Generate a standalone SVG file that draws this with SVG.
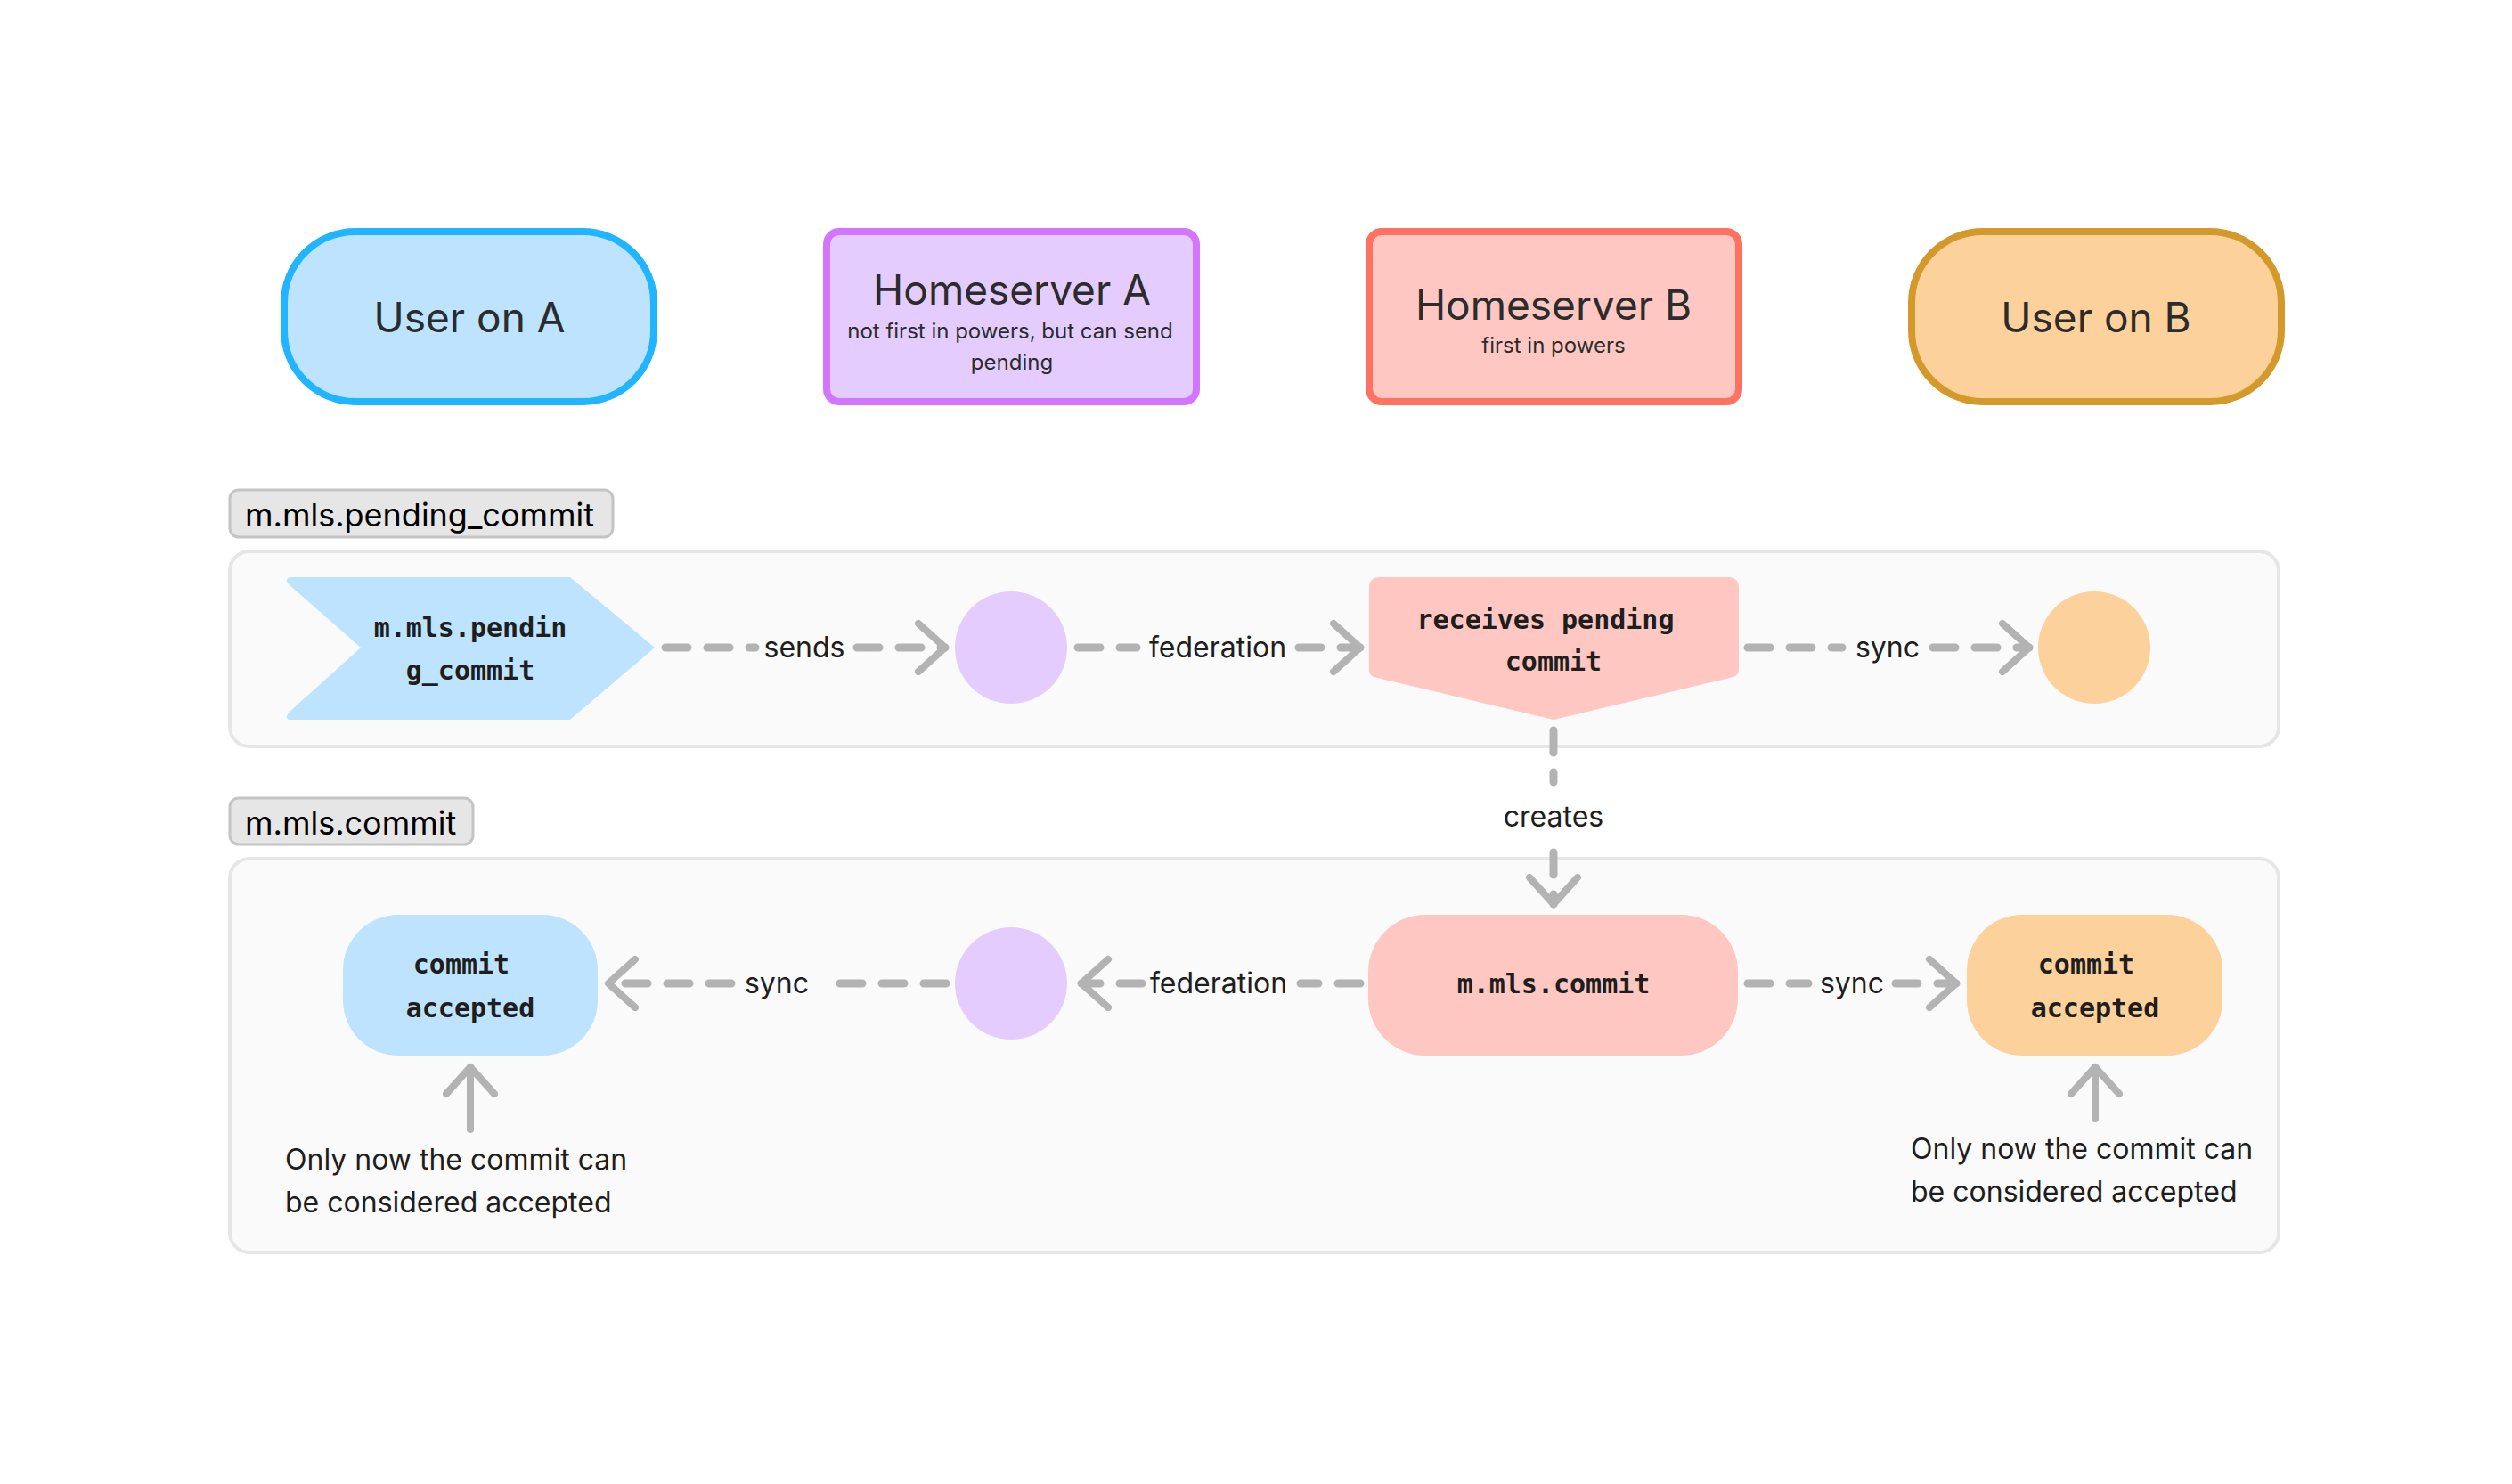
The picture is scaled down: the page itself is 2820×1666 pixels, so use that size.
<svg xmlns="http://www.w3.org/2000/svg" width="2820" height="1666" viewBox="0 0 2820 1666">
<defs>
<style>
.title{font-family:Inter,"Noto Sans",sans-serif;font-size:46px;fill:#2c2c2c;text-anchor:middle}
.sub{font-family:Inter,"Noto Sans",sans-serif;font-size:24px;fill:#2c2c2c;text-anchor:middle}
.lbl{font-family:Inter,"Noto Sans",sans-serif;font-size:32px;fill:#1e1e1e;text-anchor:middle}
.note{font-family:Inter,"Noto Sans",sans-serif;font-size:32px;fill:#1e1e1e}
.sec{font-family:Inter,"Noto Sans",sans-serif;font-size:36px;fill:#000}
.mono{font-family:"DejaVu Sans Mono","Liberation Mono",monospace;font-size:30px;font-weight:bold;fill:#1e1e1e;text-anchor:middle}
.dash{fill:none;stroke:#b3b3b3;stroke-width:9;stroke-linecap:round;stroke-dasharray:25 22;marker-end:url(#arr)}
.solid{fill:none;stroke:#b3b3b3;stroke-width:8;stroke-linecap:round;marker-end:url(#arr)}
.container{fill:#fafafa;stroke:#e6e6e6;stroke-width:4}
.seclbl{fill:#e6e6e6;stroke:#c4c4c4;stroke-width:3}
</style>
<marker id="arr" markerUnits="userSpaceOnUse" markerWidth="60" markerHeight="80" viewBox="0 0 60 80" refX="44" refY="40" orient="auto">
<path d="M14 13 L44 40 L14 67" fill="none" stroke="#b3b3b3" stroke-width="8" stroke-linecap="round" stroke-linejoin="round" stroke-dasharray="none"/>
</marker>
</defs>
<rect width="2820" height="1666" fill="#ffffff"/>

<g id="section-pending">
<rect class="container" x="258" y="619" width="2300" height="219" rx="22"/>
<rect class="seclbl" x="258" y="550" width="430" height="53" rx="10"/>
<text class="sec" x="275" y="591">m.mls.pending_commit</text>
</g>
<g id="section-commit">
<rect class="container" x="258" y="964" width="2300" height="442" rx="22"/>
<rect class="seclbl" x="258" y="896" width="273" height="52" rx="10"/>
<text class="sec" x="275" y="937">m.mls.commit</text>
</g>

<g id="user-a">
<rect x="319" y="260" width="415" height="191" rx="80" fill="#bde3ff" stroke="#22b5ff" stroke-width="8"/>
<text class="title" x="527" y="373">User on A</text>
</g>
<g id="homeserver-a">
<rect x="928" y="260" width="415" height="191" rx="14" fill="#e5ccff" stroke="#d375ff" stroke-width="8"/>
<text class="title" x="1136" y="342">Homeserver A</text>
<text class="sub" x="1134" y="380">not first in powers, but can send</text>
<text class="sub" x="1136" y="415">pending</text>
</g>
<g id="homeserver-b">
<rect x="1537" y="260" width="415" height="191" rx="14" fill="#ffc7c2" stroke="#ff7262" stroke-width="8"/>
<text class="title" x="1744" y="359">Homeserver B</text>
<text class="sub" x="1744" y="396">first in powers</text>
</g>
<g id="user-b">
<rect x="2146" y="260" width="415" height="191" rx="80" fill="#fcd19c" stroke="#d4992b" stroke-width="8"/>
<text class="title" x="2353" y="373">User on B</text>
</g>

<g id="pending-commit">
<path d="M328 648 H640 L735 727 L640 808 H328 Q318 808 324 800 L405 727 L324 656 Q318 648 328 648 Z" fill="#bde3ff"/>
<text class="mono" x="528" y="715">m.mls.pendin</text>
<text class="mono" x="528" y="763">g_commit</text>
</g>
<g id="hs-a-pending">
<circle cx="1135" cy="727" r="63" fill="#e5ccff"/>
</g>
<g id="receives-pending">
<path d="M1549 648 H1940 Q1952 648 1952 660 V752 Q1952 757 1946 760 L1744 808 L1542 760 Q1537 757 1537 752 V660 Q1537 648 1549 648 Z" fill="#ffc7c2"/>
<text class="mono" x="1735" y="706">receives pending</text>
<text class="mono" x="1744" y="753">commit</text>
</g>
<g id="user-b-pending">
<circle cx="2351" cy="727" r="63" fill="#fcd19c"/>
</g>

<g id="commit-accepted-a">
<rect x="385" y="1027" width="286" height="158" rx="62" fill="#bde3ff"/>
<text class="mono" x="518" y="1093">commit</text>
<text class="mono" x="528" y="1142">accepted</text>
</g>
<g id="hs-a-commit">
<circle cx="1135" cy="1104" r="63" fill="#e5ccff"/>
</g>
<g id="mls-commit">
<rect x="1536" y="1027" width="415" height="158" rx="64" fill="#ffc7c2"/>
<text class="mono" x="1744" y="1115">m.mls.commit</text>
</g>
<g id="commit-accepted-b">
<rect x="2208" y="1027" width="287" height="158" rx="62" fill="#fcd19c"/>
<text class="mono" x="2342" y="1093">commit</text>
<text class="mono" x="2352" y="1142">accepted</text>
</g>

<g id="notes">
<text class="note" x="320" y="1313">Only now the commit can</text>
<text class="note" x="320" y="1361">be considered accepted</text>
<text class="note" x="2145" y="1301">Only now the commit can</text>
<text class="note" x="2145" y="1349">be considered accepted</text>
</g>

<g id="connectors">
<path class="dash" d="M747 727 H848 M962 727 H1061"/>
<text class="lbl" x="903" y="738">sends</text>
<path class="dash" d="M1210 727 H1276 M1458 727 H1527"/>
<text class="lbl" x="1367" y="738">federation</text>
<path class="dash" d="M1962 727 H2068 M2170 727 H2278"/>
<text class="lbl" x="2119" y="738">sync</text>

<path class="dash" d="M1744 820 V878 M1744 957 V1015"/>
<text class="lbl" x="1744" y="928">creates</text>

<path class="dash" d="M1527 1104 H1460 M1282 1104 H1214"/>
<text class="lbl" x="1368" y="1115">federation</text>
<path class="dash" d="M1062 1104 H923 M821 1104 H683"/>
<text class="lbl" x="872" y="1115">sync</text>
<path class="dash" d="M1962 1104 H2030 M2128 1104 H2196"/>
<text class="lbl" x="2079" y="1115">sync</text>

<path class="solid" d="M528 1268 V1198"/>
<path class="solid" d="M2352 1256 V1198"/>
</g>
</svg>
